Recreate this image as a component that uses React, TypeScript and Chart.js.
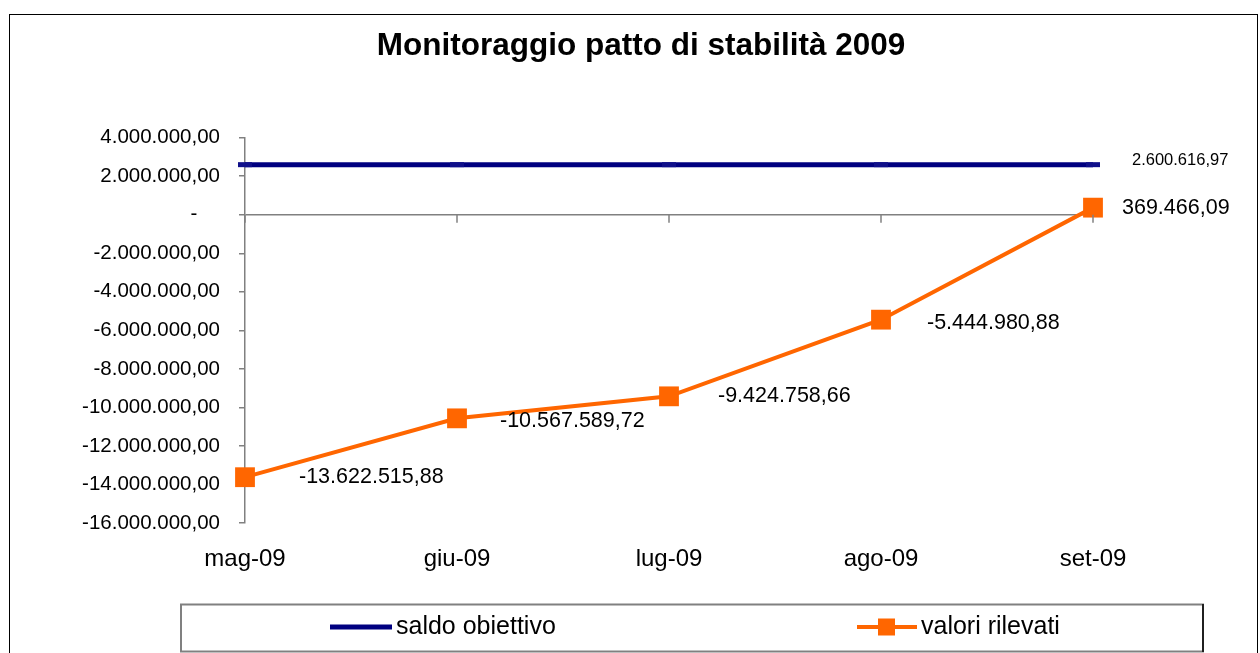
import React, { useEffect, useRef } from "react";
import { Chart, registerables } from "chart.js";

Chart.register(...registerables);

const categories = ["mag-09", "giu-09", "lug-09", "ago-09", "set-09"];
const saldoObiettivo = [2600616.97, 2600616.97, 2600616.97, 2600616.97, 2600616.97];
const valoriRilevati = [-13622515.88, -10567589.72, -9424758.66, -5444980.88, 369466.09];
const yMin = -16000000;
const yMax = 4000000;
const yStep = 2000000;
const titleText = "Monitoraggio patto di stabilità 2009";
const seriesNames = ["saldo obiettivo", "valori rilevati"];

// label offsets (styling only)
const labelDx = [54, 43, 49, 46, 29];
const labelDy = [0, 3, 0, 3, 0];

const FONT = '"Liberation Sans", Arial, sans-serif';
const NAVY = "#000080";
const ORANGE = "#FF6600";

function fmt(n: number): string {
  const neg = n < 0;
  const s = Math.abs(n).toFixed(2);
  const [intPart, dec] = s.split(".");
  const grouped = intPart.replace(/\B(?=(\d{3})+(?!\d))/g, ".");
  return (neg ? "-" : "") + grouped + "," + dec;
}

const decorPlugin = {
  id: "decor",
  beforeDraw(chart: any) {
    const ctx = chart.ctx;
    ctx.save();
    ctx.fillStyle = "#fff";
    ctx.fillRect(0, 0, chart.width, chart.height);
    ctx.restore();
  },
  afterDraw(chart: any) {
    const ctx = chart.ctx;
    const x = chart.scales.x;
    const y = chart.scales.y;
    ctx.save();
    // outer border
    ctx.strokeStyle = "#000";
    ctx.lineWidth = 1;
    ctx.strokeRect(9.5, 14.5, 1248, 700);
    // title
    ctx.fillStyle = "#000";
    ctx.font = `bold 31.5px ${FONT}`;
    ctx.textAlign = "center";
    ctx.textBaseline = "middle";
    ctx.fillText(titleText, 641, 46);
    // legend box
    ctx.strokeStyle = "#808080";
    ctx.lineWidth = 2;
    ctx.strokeRect(181, 604.5, 1022, 47);
    ctx.strokeStyle = "#000";
    ctx.lineWidth = 1.5;
    ctx.beginPath();
    ctx.moveTo(1203, 604);
    ctx.lineTo(1203, 652);
    ctx.stroke();
    // legend items
    const ly = 627;
    ctx.strokeStyle = NAVY;
    ctx.lineWidth = 5;
    ctx.beginPath();
    ctx.moveTo(330, ly);
    ctx.lineTo(392, ly);
    ctx.stroke();
    ctx.strokeStyle = ORANGE;
    ctx.lineWidth = 4;
    ctx.beginPath();
    ctx.moveTo(857, ly);
    ctx.lineTo(917, ly);
    ctx.stroke();
    ctx.fillStyle = ORANGE;
    ctx.fillRect(878, ly - 8.5, 17, 17);
    ctx.fillStyle = "#000";
    ctx.font = `25px ${FONT}`;
    ctx.textAlign = "left";
    ctx.textBaseline = "middle";
    ctx.fillText(seriesNames[0], 396, ly);
    ctx.fillText(seriesNames[1], 921, ly);
    // zero-line tick marks for categories
    const y0 = y.getPixelForValue(0);
    ctx.strokeStyle = "#808080";
    ctx.lineWidth = 1.5;
    for (let i = 0; i < categories.length; i++) {
      const px = x.getPixelForValue(i);
      ctx.beginPath();
      ctx.moveTo(px, y0);
      ctx.lineTo(px, y0 + 8);
      ctx.stroke();
    }
    ctx.restore();
  },
  afterDatasetsDraw(chart: any) {
    const ctx = chart.ctx;
    ctx.save();
    ctx.fillStyle = "#000";
    ctx.textAlign = "left";
    ctx.textBaseline = "middle";
    const m1 = chart.getDatasetMeta(1);
    ctx.font = `21.5px ${FONT}`;
    m1.data.forEach((pt: any, i: number) => {
      ctx.fillText(fmt(valoriRilevati[i]), pt.x + labelDx[i], pt.y + labelDy[i]);
    });
    const m0 = chart.getDatasetMeta(0);
    const last = m0.data[m0.data.length - 1];
    ctx.font = `16.5px ${FONT}`;
    ctx.fillText(fmt(saldoObiettivo[saldoObiettivo.length - 1]), last.x + 39, last.y - 4);
    ctx.restore();
  },
};

export default function App() {
  const ref = useRef<HTMLCanvasElement | null>(null);
  useEffect(() => {
    if (!ref.current) return;
    const chart = new Chart(ref.current, {
      type: "line",
      data: {
        labels: categories,
        datasets: [
          {
            label: seriesNames[0],
            data: saldoObiettivo,
            borderColor: NAVY,
            backgroundColor: NAVY,
            borderWidth: 5,
            pointStyle: "line",
            pointRadius: 7,
            pointBorderWidth: 5,
            pointBorderColor: "#10108a",
            pointHoverRadius: 7,
            tension: 0,
            clip: false,
          },
          {
            label: seriesNames[1],
            data: valoriRilevati,
            borderColor: ORANGE,
            backgroundColor: ORANGE,
            borderWidth: 4,
            pointStyle: "rect",
            pointRadius: 14,
            pointBorderWidth: 0,
            pointHoverRadius: 14,
            tension: 0,
            clip: false,
          },
        ],
      },
      options: {
        responsive: false,
        animation: false,
        events: [],
        layout: {
          autoPadding: false,
          padding: { top: 137.7, right: 167, left: 0, bottom: 70 },
        },
        plugins: {
          legend: { display: false },
          title: { display: false },
          tooltip: { enabled: false },
        },
        scales: {
          x: {
            type: "category",
            offset: false,
            grid: { display: false, drawTicks: false },
            border: { display: false },
            ticks: {
              color: "#000",
              font: { family: FONT, size: 24 },
              padding: 22,
              maxRotation: 0,
              autoSkip: false,
            },
            afterFit: (s: any) => {
              s.height = 60;
            },
          },
          y: {
            min: yMin,
            max: yMax,
            ticks: {
              stepSize: yStep,
              color: "#000",
              font: { family: FONT, size: 20.5 },
              padding: 19,
              callback: (v: any) => (Number(v) === 0 ? "-    " : fmt(Number(v))),
            },
            grid: {
              drawOnChartArea: true,
              color: (c: any) => (c.tick && c.tick.value === 0 ? "#808080" : "rgba(0,0,0,0)"),
              lineWidth: 1.5,
              tickColor: "#808080",
              tickLength: 6,
            },
            border: { display: true, color: "#808080", width: 1.5 },
            afterFit: (s: any) => {
              s.width = 245;
            },
          },
        },
      },
      plugins: [decorPlugin],
    } as any);
    return () => chart.destroy();
  }, []);
  return (
    <div style={{ position: "fixed", left: 0, top: 0, width: 1260, height: 653, background: "#fff" }}>
      <canvas ref={ref} width={1260} height={653} style={{ display: "block", width: 1260, height: 653 }} />
    </div>
  );
}
